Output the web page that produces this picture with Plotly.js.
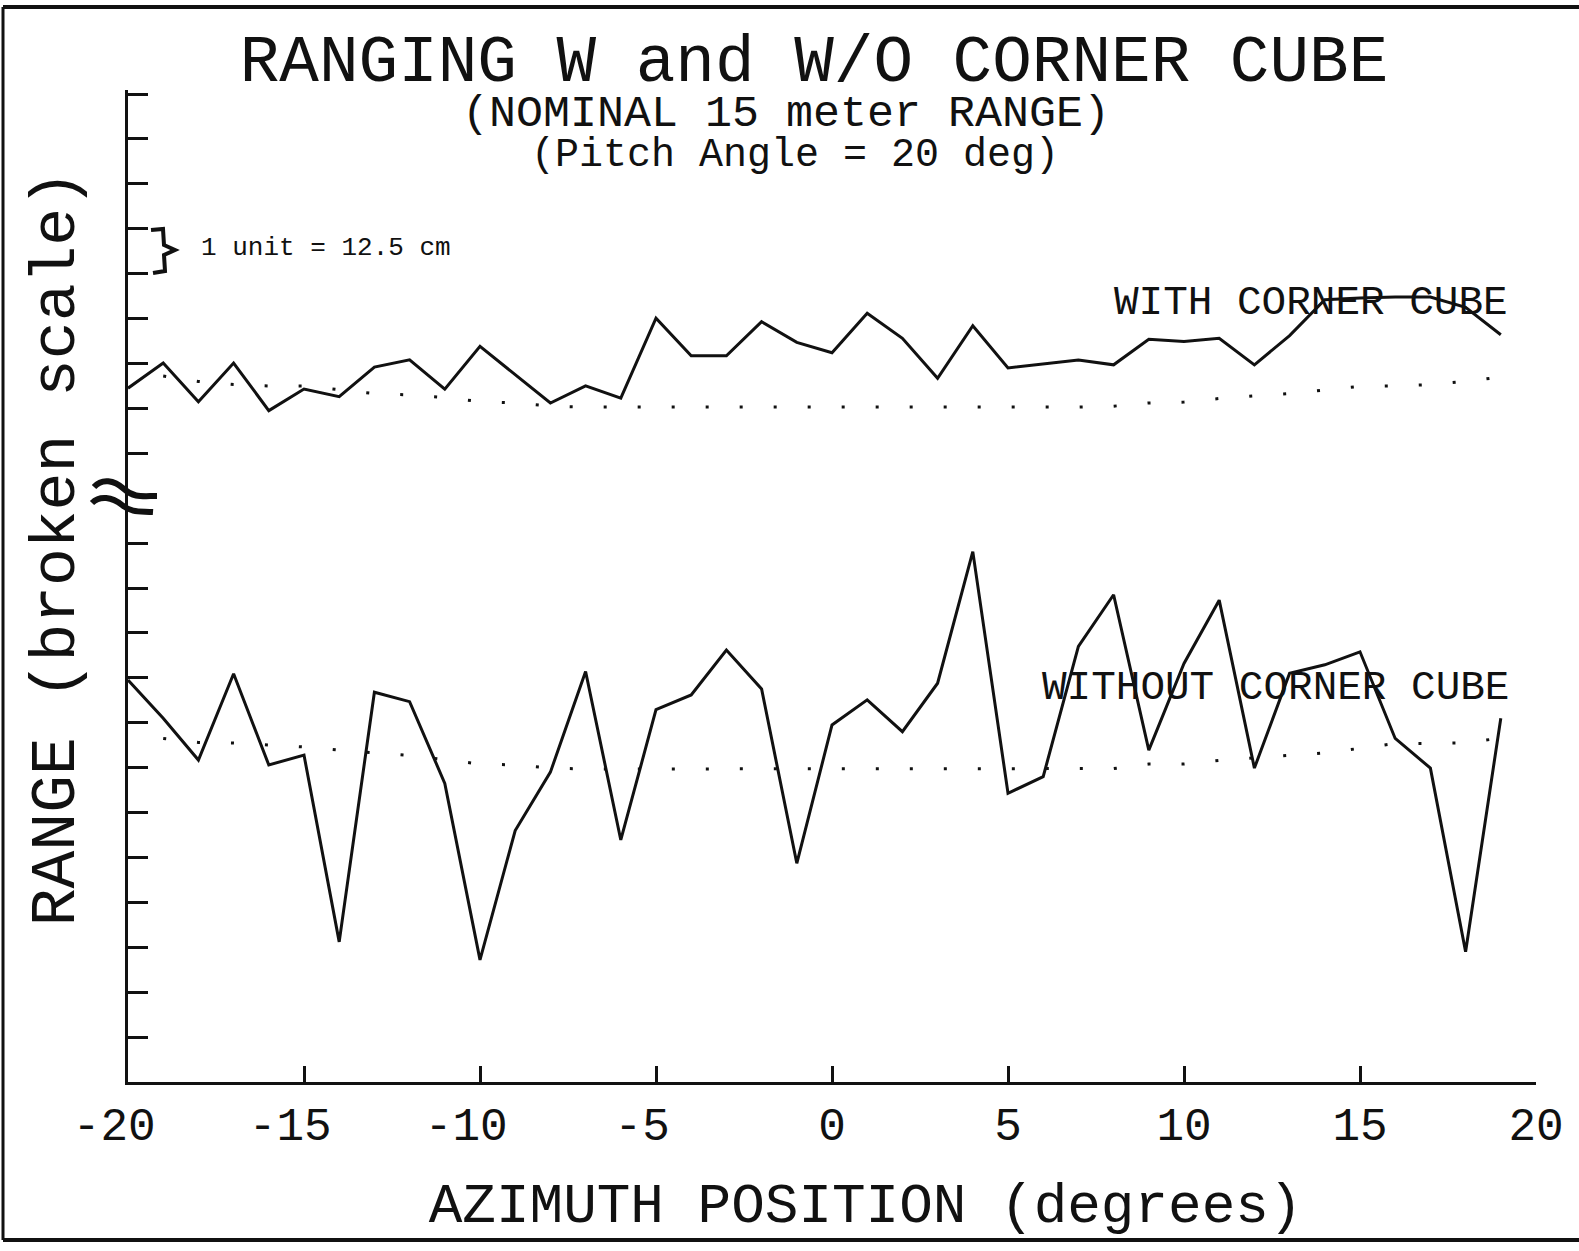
<!DOCTYPE html>
<html>
<head>
<meta charset="utf-8">
<script src="https://cdn.plot.ly/plotly-3.0.1.min.js"></script>
<style>
  html, body { margin: 0; padding: 0; background: #ffffff; }
  #chart { width: 1579px; height: 1251px; }
</style>
</head>
<body>
<div id="chart"></div>
<script>
// ---------------- DATA ----------------
var azimuth = [-20, -19, -18, -17, -16, -15, -14, -13, -12, -11,
               -10, -9, -8, -7, -6, -5, -4, -3, -2, -1,
               0, 1, 2, 3, 4, 5, 6, 7, 8, 9,
               10, 11, 12, 13, 14, 15, 16, 17, 18, 19];

var withCornerCube = [15.45, 16.01, 15.15, 16.01, 14.95, 15.43, 15.26, 15.92, 16.08, 15.43,
                      16.38, 15.75, 15.12, 15.50, 15.23, 17.01, 16.17, 16.17, 16.93, 16.47,
                      16.24, 17.12, 16.56, 15.67, 16.84, 15.90, 15.99, 16.08, 15.97, 16.54,
                      16.49, 16.56, 15.97, 16.62, 17.42, 17.46, 17.48, 17.48, 17.25, 16.64];

var withoutCornerCube = [8.95, 8.10, 7.17, 9.09, 7.06, 7.28, 3.12, 8.68, 8.47, 6.65,
                         2.72, 5.60, 6.90, 9.14, 5.39, 8.29, 8.62, 9.62, 8.75, 4.87,
                         7.95, 8.51, 7.80, 8.88, 11.81, 6.43, 6.80, 9.70, 10.85, 7.39,
                         9.32, 10.73, 6.99, 9.10, 9.29, 9.58, 7.65, 6.99, 2.90, 8.10];

var baseAzimuth = [-19, -18, -17, -16, -15, -14, -13, -12, -11, -10,
                   -9, -8, -7, -6, -5, -4, -3, -2, -1, 0,
                   1, 2, 3, 4, 5, 6, 7, 8, 9, 10,
                   11, 12, 13, 14, 15, 16, 17, 18, 19];

var withBaseline = [15.72, 15.60, 15.53, 15.50, 15.50, 15.42, 15.33, 15.30, 15.24, 15.15,
                    15.12, 15.05, 15.03, 15.03, 15.03, 15.03, 15.03, 15.03, 15.03, 15.03,
                    15.03, 15.03, 15.03, 15.03, 15.03, 15.03, 15.03, 15.05, 15.12, 15.14,
                    15.22, 15.28, 15.33, 15.41, 15.49, 15.50, 15.53, 15.60, 15.70];

var withoutBaseline = [7.65, 7.56, 7.55, 7.50, 7.46, 7.39, 7.33, 7.27, 7.18, 7.08,
                       7.06, 6.99, 6.97, 6.97, 6.97, 6.97, 6.97, 6.97, 6.97, 6.97,
                       6.97, 6.97, 6.97, 6.97, 6.97, 6.97, 6.97, 6.98, 7.08, 7.08,
                       7.16, 7.22, 7.27, 7.33, 7.43, 7.54, 7.54, 7.55, 7.66];

var xTickVals = [-20, -15, -10, -5, 0, 5, 10, 15, 20];
var xTickText = ["-20", "-15", "-10", "-5", "0", "5", "10", "15", "20"];
// y ticks every unit, the break (13) has no tick
var yTickVals = [0, 1, 2, 3, 4, 5, 6, 7, 8, 9, 10, 11, 12, 14, 15, 16, 17, 18, 19, 20, 21, 22];

// ---------------- LAYOUT HELPERS ----------------
var W = 1579, H = 1251;
var M = {l: 128, r: 43, t: 90, b: 169};
var PW = W - M.l - M.r, PH = H - M.t - M.b;
function px(x) { return (x - M.l) / PW; }           // pixel x -> paper
function py(y) { return (H - M.b - y) / PH; }       // pixel y -> paper
function pathFrom(cmds) {
  return cmds.map(function (c) {
    if (typeof c === 'string') return c;
    return px(c[0]).toFixed(5) + ',' + py(c[1]).toFixed(5);
  }).join(' ');
}
// in the original plotter output the minus sign hangs to the left of the number
var xTickShown = xTickText.map(function (t) { return t.charAt(0) === '-' ? t + '&nbsp;' : t; });

var FONT = 'Liberation Mono, DejaVu Sans Mono, monospace';
var INK = '#111111';

var traces = [
  {x: azimuth, y: withCornerCube, mode: 'lines', name: 'WITH CORNER CUBE',
   line: {color: INK, width: 3}, hoverinfo: 'x+y'},
  {x: azimuth, y: withoutCornerCube, mode: 'lines', name: 'WITHOUT CORNER CUBE',
   line: {color: INK, width: 3}, hoverinfo: 'x+y'},
  {x: baseAzimuth, y: withBaseline, mode: 'lines', name: 'baseline (with)',
   line: {color: INK, width: 3, dash: '3px,31px'}, hoverinfo: 'skip'},
  {x: baseAzimuth, y: withoutBaseline, mode: 'lines', name: 'baseline (without)',
   line: {color: INK, width: 3, dash: '3px,31px'}, hoverinfo: 'skip'}
];

var layout = {
  width: W, height: H,
  margin: M,
  paper_bgcolor: '#ffffff', plot_bgcolor: '#ffffff',
  showlegend: false,
  font: {family: FONT, color: INK},
  title: {
    text: 'RANGING W and W/O CORNER CUBE',
    font: {family: FONT, size: 66, color: INK},
    xref: 'container', x: 814 / W, xanchor: 'center',
    yref: 'container', y: 1 - 58 / H, yanchor: 'middle'
  },
  xaxis: {
    range: [-20, 20],
    showgrid: false, zeroline: false,
    showline: true, linecolor: INK, linewidth: 3,
    ticks: 'inside', ticklen: 16, tickwidth: 3, tickcolor: INK,
    tickmode: 'array', tickvals: xTickVals, ticktext: xTickShown,
    tickfont: {family: FONT, size: 46, color: INK},
    ticklabelstandoff: 0,
    title: {text: '&nbsp;&nbsp;AZIMUTH POSITION (degrees)',
            font: {family: FONT, size: 56, color: INK}, standoff: 30}
  },
  yaxis: {
    range: [0, 22.09],
    showgrid: false, zeroline: false,
    showline: true, linecolor: INK, linewidth: 3,
    ticks: 'inside', ticklen: 20, tickwidth: 3, tickcolor: INK,
    tickmode: 'array', tickvals: yTickVals,
    showticklabels: false,
    title: {text: '&nbsp;&nbsp;RANGE (broken scale)', font: {family: FONT, size: 63, color: INK}, standoff: 30}
  },
  annotations: [
    {text: '(NOMINAL 15 meter RANGE)', xref: 'paper', yref: 'paper',
     x: px(786), y: py(115), xanchor: 'center', yanchor: 'middle', showarrow: false,
     font: {family: FONT, size: 45, color: INK}},
    {text: '(Pitch Angle = 20 deg)', xref: 'paper', yref: 'paper',
     x: px(795), y: py(155), xanchor: 'center', yanchor: 'middle', showarrow: false,
     font: {family: FONT, size: 40, color: INK}},
    {text: '1 unit = 12.5 cm', xref: 'paper', yref: 'paper',
     x: px(199), y: py(248), xanchor: 'left', yanchor: 'middle', showarrow: false,
     font: {family: FONT, size: 26, color: INK}},
    {text: 'WITH CORNER CUBE', xref: 'paper', yref: 'paper',
     x: px(1510), y: py(303), xanchor: 'right', yanchor: 'middle', showarrow: false,
     font: {family: FONT, size: 41, color: INK}},
    {text: 'WITHOUT CORNER CUBE', xref: 'paper', yref: 'paper',
     x: px(1511), y: py(688), xanchor: 'right', yanchor: 'middle', showarrow: false,
     font: {family: FONT, size: 41, color: INK}}
  ],
  shapes: [
    // outer frame of the sheet
    {type: 'line', xref: 'paper', yref: 'paper', x0: px(3), x1: px(1579), y0: py(7), y1: py(7),
     line: {color: INK, width: 4}},
    {type: 'line', xref: 'paper', yref: 'paper', x0: px(3), x1: px(3), y0: py(7), y1: py(1240),
     line: {color: INK, width: 3}},
    {type: 'line', xref: 'paper', yref: 'paper', x0: px(3), x1: px(1579), y0: py(1240), y1: py(1240),
     line: {color: INK, width: 4}},
    // unit brace
    {type: 'path', xref: 'paper', yref: 'paper',
     path: pathFrom(['M', [151, 230], 'L', [163, 229], 'L', [164, 245], 'L', [175, 250],
                     'L', [164, 255], 'L', [165, 271], 'L', [153, 273]]),
     line: {color: INK, width: 4}},
    // axis break symbol
    {type: 'path', xref: 'paper', yref: 'paper',
     path: pathFrom(['M', [94, 487], 'C', [102, 478], [114, 480], [124, 489],
                     'S', [142, 496], [157, 496]]),
     line: {color: INK, width: 6}},
    {type: 'path', xref: 'paper', yref: 'paper',
     path: pathFrom(['M', [92, 503], 'C', [100, 495], [112, 497], [122, 505],
                     'S', [140, 511], [153, 512]]),
     line: {color: INK, width: 6}}
  ]
};

Plotly.newPlot('chart', traces, layout, {displayModeBar: false, staticPlot: true});
</script>
</body>
</html>
